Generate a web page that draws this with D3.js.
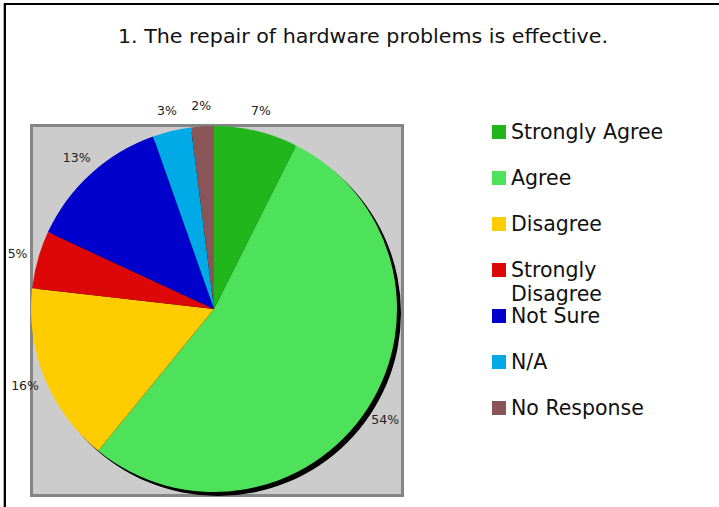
<!DOCTYPE html>
<html><head><meta charset="utf-8">
<script src="https://cdn.jsdelivr.net/npm/d3@7"></script>
<style>html,body{margin:0;padding:0;background:#fff;}svg{display:block;}</style>
</head><body>
<script>
const title = "1. The repair of hardware problems is effective.";
const categories = ["Strongly Agree","Agree","Disagree","Strongly Disagree","Not Sure","N/A","No Response"];
const values = [7.4, 53.5, 15.9, 5.1, 12.7, 3.4, 2.0];
const colors = ["#21B71C","#4DE259","#FFCC00","#DD0707","#0000CC","#00AAE7","#8A5557"];

const W = 719, H = 507;
const svg = d3.select("body").append("svg").attr("width", W).attr("height", H);
const font = "DejaVu Sans, Verdana, sans-serif";

// outer frame
svg.append("path").attr("d","M3.5,507 V3.5 H719").attr("fill","none").attr("stroke","#aaa").attr("stroke-width",1);
svg.append("path").attr("d","M5,507 V4 H719").attr("fill","none").attr("stroke","#000").attr("stroke-width",2);

svg.append("text").attr("x", 363).attr("y", 43).attr("text-anchor","middle")
  .attr("font-family", font).attr("font-size", 19).attr("fill","#111")
  .attr("textLength", 490).attr("lengthAdjust","spacingAndGlyphs").text(title);

// plot area
svg.append("rect").attr("x",31.5).attr("y",125.5).attr("width",371).attr("height",370)
  .attr("fill","#CCCCCC").attr("stroke","#858585").attr("stroke-width",3);

const cx = 214, cy = 309, r = 183;
const pie = d3.pie().sort(null).value(d => d)(values);
const arc = d3.arc().innerRadius(0).outerRadius(r);
const labelArc = d3.arc().innerRadius(204).outerRadius(204);

const g = svg.append("g").attr("transform", `translate(${cx},${cy})`);
g.append("circle").attr("cx",4).attr("cy",4).attr("r",r).attr("fill","#000");
g.selectAll("path.slice").data(pie).enter().append("path").attr("class","slice")
  .attr("d", arc).attr("fill",(d,i)=>colors[i]);
g.selectAll("text.lbl").data(pie).enter().append("text").attr("class","lbl")
  .attr("transform", d => `translate(${labelArc.centroid(d)})`)
  .attr("text-anchor","middle").attr("dy","0.35em")
  .attr("font-family", font).attr("font-size", 12.5).attr("fill","#222")
  .text(d => Math.round(d.data) + "%");

// legend
const legY = [132, 178, 224, 270, 316, 362, 408];
const lg = svg.append("g");
categories.forEach((c, i) => {
  lg.append("rect").attr("x",492).attr("y",legY[i]-7).attr("width",14).attr("height",14).attr("fill",colors[i]);
  const t = lg.append("text").attr("x",511).attr("y",legY[i]+7)
    .attr("font-family", font).attr("font-size", 20.5).attr("fill","#111");
  if (c === "Strongly Disagree") {
    t.append("tspan").attr("x",511).text("Strongly");
    t.append("tspan").attr("x",511).attr("dy",24).text("Disagree");
  } else t.text(c);
});
</script>
</body></html>
